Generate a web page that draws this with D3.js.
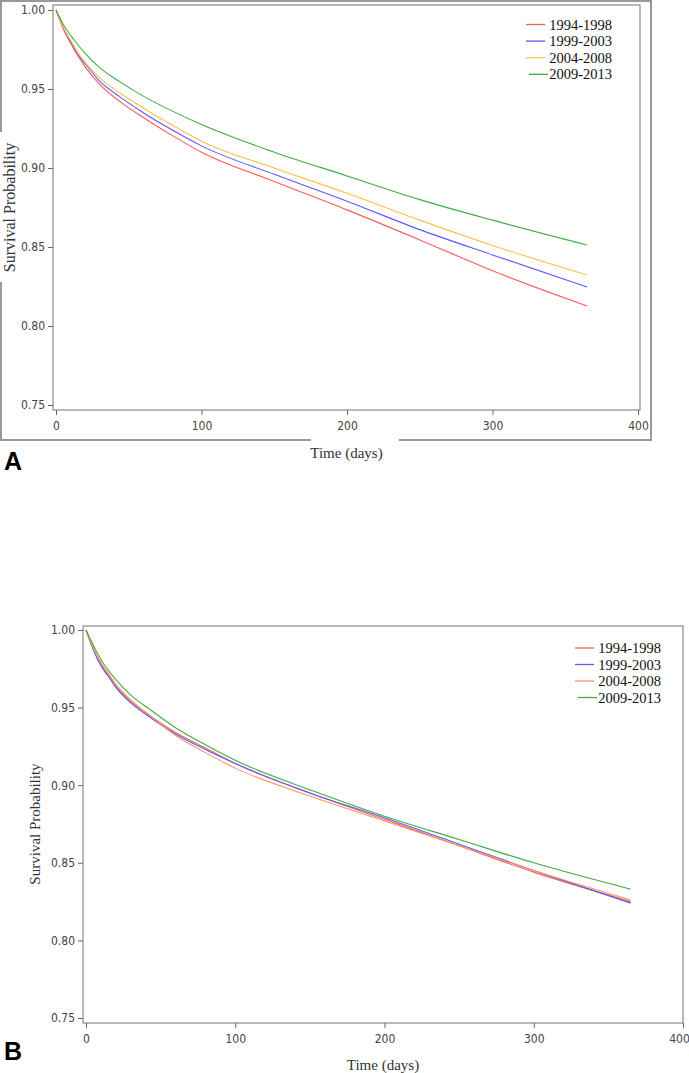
<!DOCTYPE html>
<html><head><meta charset="utf-8">
<script src="https://cdn.jsdelivr.net/npm/d3@7"></script>
<style>
body{margin:0;background:#fff;}
.tick text{font-family:"Liberation Sans Narrow","Arial Narrow","DejaVu Sans",sans-serif;font-stretch:condensed;font-size:12px;fill:#444;}
.ttl{font-family:"Liberation Serif","DejaVu Serif",serif;font-size:15px;fill:#333;}
.leg{font-family:"Liberation Serif","DejaVu Serif",serif;font-size:14.5px;fill:#111;}
.pl{font-family:"Liberation Sans","DejaVu Sans",sans-serif;font-weight:900;font-size:25px;fill:#000;}
</style></head><body>
<svg id="c" width="689" height="1073"></svg>
<script>
const seriesNames=["1994-1998","1999-2003","2004-2008","2009-2013"];
const days=[0,5,10,15,20,30,44,60,80,100,150,200,250,300,365];
// Panel A survival values
const a1994=[1,0.988,0.979,0.971,0.964,0.953,0.942,0.932,0.9205,0.910,0.8915,0.8735,0.8545,0.835,0.8127];
const a1999=[1,0.989,0.980,0.972,0.966,0.955,0.945,0.935,0.924,0.914,0.896,0.879,0.861,0.845,0.8247];
const a2004=[1,0.989,0.981,0.973,0.967,0.957,0.9475,0.938,0.927,0.917,0.900,0.884,0.867,0.851,0.8323];
const a2009=[1,0.991,0.984,0.978,0.9725,0.9635,0.9545,0.9455,0.936,0.9275,0.910,0.895,0.880,0.867,0.8513];
// Panel B survival values
const b1994=[1,0.988,0.978,0.971,0.964,0.954,0.944,0.934,0.924,0.914,0.895,0.878,0.861,0.844,0.825];
const b1999=[1,0.987,0.977,0.970,0.963,0.953,0.943,0.933,0.923,0.914,0.895,0.879,0.862,0.845,0.824];
const b2004=[1,0.988,0.979,0.972,0.965,0.955,0.944,0.932,0.921,0.911,0.893,0.877,0.861,0.845,0.826];
const b2009=[1,0.990,0.981,0.974,0.968,0.958,0.948,0.937,0.926,0.916,0.897,0.880,0.865,0.850,0.833];
const xTicks=[0,100,200,300,400];
const yTicks=[0.75,0.80,0.85,0.90,0.95,1.00];
const colorsA=["#ff5a5a","#5a5aff","#ffc048","#3fae3f"];
const colorsB=["#ff5a5a","#5a5aff","#f8985a","#3fae3f"];

const svg=d3.select("#c");

function panel(cfg){
  const g=svg.append("g");
  const x=d3.scaleLinear().domain([0,400]).range([cfg.x0,cfg.x400]);
  const y=d3.scaleLinear().domain([0.75,1.0]).range([cfg.y75,cfg.y100]);
  const left=cfg.x0-3, right=cfg.right, top=cfg.top, bottom=cfg.y75+5;
  g.append("rect").attr("x",left).attr("y",top).attr("width",right-left).attr("height",bottom-top)
    .attr("fill","none").attr("stroke","#8a8a8a").attr("stroke-width",1.2);
  const xa=g.append("g").attr("transform",`translate(0,${bottom})`);
  xa.call(d3.axisBottom(x).tickValues(d3.range(0,401,10)).tickSize(3).tickFormat("")).call(s=>s.select(".domain").remove());
  xa.call(d3.axisBottom(x).tickValues(xTicks).tickSize(5).tickPadding(6).tickFormat(d3.format("d")));
  xa.selectAll(".domain").remove();
  xa.selectAll("line").attr("stroke","#666");
  if(cfg.lastDx) xa.selectAll(".tick text").filter(d=>d===400).attr("dx",cfg.lastDx);
  const ya=g.append("g").attr("transform",`translate(${left},0)`);
  ya.call(d3.axisLeft(y).tickValues(d3.range(0,51).map(i=>0.75+i*0.005)).tickSize(3).tickFormat("")).call(s=>s.select(".domain").remove());
  ya.call(d3.axisLeft(y).tickValues(yTicks).tickSize(5).tickPadding(3).tickFormat(d3.format(".2f")));
  ya.selectAll(".domain").remove();
  ya.selectAll("line").attr("stroke","#666");
  const line=d3.line().x(d=>x(d[0])).y(d=>y(d[1])).curve(d3.curveMonotoneX);
  cfg.series.forEach((vals,i)=>{
    g.append("path").datum(days.map((d,j)=>[d,vals[j]])).attr("d",line)
      .attr("fill","none").attr("stroke",cfg.colors[i]).attr("stroke-width",1.1);
  });
  seriesNames.forEach((n,i)=>{
    const ly=cfg.legY+i*cfg.legDy;
    const off=i===3?3:0;
    g.append("line").attr("x1",cfg.legLx+off).attr("x2",cfg.legLx+19+off).attr("y1",ly).attr("y2",ly)
      .attr("stroke",cfg.colors[i]).attr("stroke-width",1.3);
    g.append("text").attr("class","leg").attr("x",cfg.legTx).attr("y",ly+5).attr("text-anchor","end").text(n);
  });
  g.append("text").attr("class","ttl").attr("x",(left+right)/2).attr("y",cfg.xTitleY).attr("text-anchor","middle").text("Time (days)");
  g.append("text").attr("class","ttl").attr("transform",`translate(${cfg.yTitleX},${(cfg.y75+cfg.y100)/2}) rotate(-90)`)
    .attr("text-anchor","middle").style("font-size",cfg.yTitleSize+"px").text("Survival Probability");
  g.append("text").attr("class","pl").attr("x",4).attr("y",cfg.labelY).text(cfg.label);
  return {left,right,top,bottom};
}

panel({x0:56,x400:638,y75:405,y100:10,right:640,top:5,series:[a1994,a1999,a2004,a2009],colors:colorsA,
  legLx:526,legTx:612,legY:24.5,legDy:16.6,xTitleY:458,yTitleX:15,yTitleSize:16,label:"A",labelY:470});
svg.append("path").attr("fill","none").attr("stroke","#999").attr("stroke-width",2)
  .attr("d",["M1,132 L1,1 L651,1 L651,440 L399,440","M311,440 L1,440 L1,282"].join(" "));

panel({x0:86,x400:683,y75:1018,y100:630,right:683,top:626,series:[b1994,b1999,b2004,b2009],colors:colorsB,
  legLx:575,legTx:661,legY:648,legDy:16.5,xTitleY:1070,yTitleX:40,yTitleSize:15,label:"B",labelY:1060,lastDx:-4});
</script></body></html>
